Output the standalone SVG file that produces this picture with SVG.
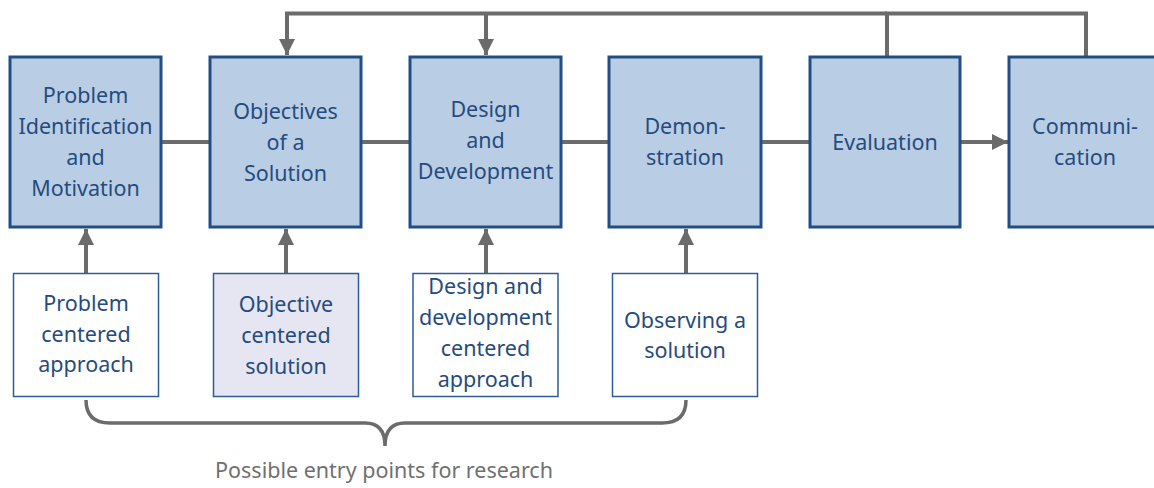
<svg xmlns="http://www.w3.org/2000/svg" width="1154" height="488" viewBox="0 0 1154 488">
<style>
.main{fill:#b9cee5;stroke:#234e85;stroke-width:3}
.sub{fill:#ffffff;stroke:#2d5d96;stroke-width:1.5}
.subg{fill:#e6e6f2;stroke:#2d5d96;stroke-width:1.5}
text{font-family:"Noto Sans","Liberation Sans",sans-serif;font-size:21.5px;fill:#264b7e;text-anchor:middle}
.conn{fill:none;stroke:#6b6b6b;stroke-width:4}
.br{fill:none;stroke:#6b6b6b;stroke-width:3.5}
.cap{fill:#707070;font-size:21.5px}
</style>
<defs>
<marker id="ah" viewBox="0 0 10 10" refX="10" refY="5" markerWidth="4" markerHeight="4" orient="auto" markerUnits="strokeWidth">
<path d="M0,0 L10,5 L0,10 z" fill="#6b6b6b"/>
</marker>
</defs>
<g id="connectors">
<line class="conn" x1="161" y1="142" x2="210" y2="142"/>
<line class="conn" x1="361" y1="142" x2="410" y2="142"/>
<line class="conn" x1="561" y1="142" x2="609" y2="142"/>
<line class="conn" x1="761" y1="142" x2="810" y2="142"/>
<line class="conn" x1="960" y1="142" x2="1008" y2="142" marker-end="url(#ah)"/>
<polyline class="conn" points="887,56 887,13.5 1086,13.5 1086,56"/>
<polyline class="conn" points="887,13.5 287,13.5 287,55" marker-end="url(#ah)"/>
<line class="conn" x1="486" y1="13.5" x2="486" y2="55" marker-end="url(#ah)"/>
<line class="conn" x1="86" y1="273" x2="86" y2="229" marker-end="url(#ah)"/>
<line class="conn" x1="286" y1="273" x2="286" y2="229" marker-end="url(#ah)"/>
<line class="conn" x1="486" y1="273" x2="486" y2="229" marker-end="url(#ah)"/>
<line class="conn" x1="686" y1="273" x2="686" y2="229" marker-end="url(#ah)"/>
<path class="br" d="M86,400 Q86,423 110,423 L365,423 Q385,423 385,446 Q385,423 405,423 L662,423 Q686,423 686,400"/>
</g>
<g id="n1"><rect class="main" x="10" y="57" width="151" height="170"/>
<text x="85.5" y="103">Problem</text><text x="85.5" y="134">Identification</text><text x="85.5" y="165">and</text><text x="85.5" y="196">Motivation</text></g>
<g id="n2"><rect class="main" x="210" y="57" width="151" height="170"/>
<text x="285.5" y="119">Objectives</text><text x="285.5" y="150">of a</text><text x="285.5" y="181">Solution</text></g>
<g id="n3"><rect class="main" x="410" y="57" width="151" height="170"/>
<text x="485.5" y="117">Design</text><text x="485.5" y="148">and</text><text x="485.5" y="179">Development</text></g>
<g id="n4"><rect class="main" x="609" y="57" width="152" height="170"/>
<text x="685" y="134">Demon-</text><text x="685" y="165">stration</text></g>
<g id="n5"><rect class="main" x="810" y="57" width="150" height="170"/>
<text x="885" y="150">Evaluation</text></g>
<g id="n6"><rect class="main" x="1009" y="57" width="152" height="170"/>
<text x="1085" y="134">Communi-</text><text x="1085" y="165">cation</text></g>
<g id="s1"><rect class="sub" x="13.5" y="273.5" width="145" height="123"/>
<text x="86" y="311">Problem</text><text x="86" y="342">centered</text><text x="86" y="372">approach</text></g>
<g id="s2"><rect class="subg" x="213.5" y="273.5" width="145" height="123"/>
<text x="286" y="312">Objective</text><text x="286" y="343">centered</text><text x="286" y="374">solution</text></g>
<g id="s3"><rect class="sub" x="413" y="273.5" width="145" height="123"/>
<text x="485.5" y="294">Design and</text><text x="485.5" y="325">development</text><text x="485.5" y="356">centered</text><text x="485.5" y="387">approach</text></g>
<g id="s4"><rect class="sub" x="612.5" y="273.5" width="145" height="123"/>
<text x="685" y="328">Observing a</text><text x="685" y="358">solution</text></g>
<text class="cap" x="384" y="478">Possible entry points for research</text>
</svg>
